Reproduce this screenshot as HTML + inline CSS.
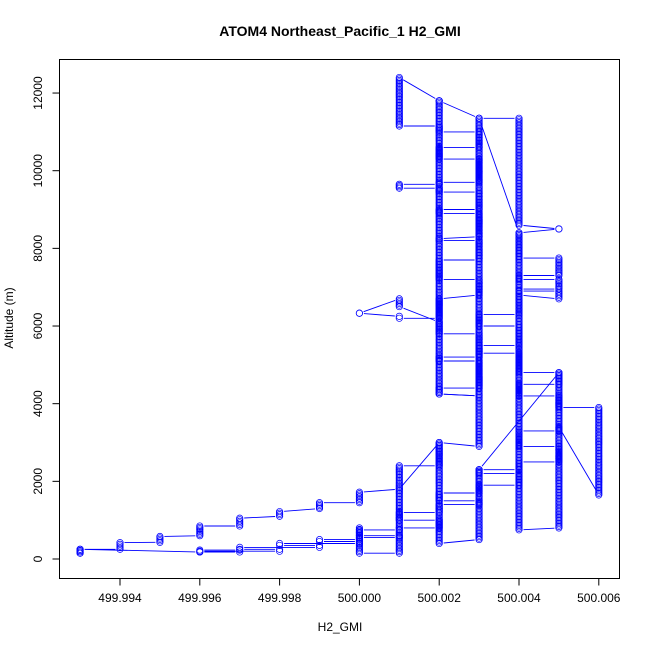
<!DOCTYPE html>
<html><head><meta charset="utf-8"><style>
body{margin:0;background:#fff}
svg{display:block;font-family:"Liberation Sans",sans-serif}
</style></head><body>
<svg id="chart" width="650" height="650" viewBox="0 0 650 650">
<text x="340" y="36" text-anchor="middle" font-size="14" font-weight="bold">ATOM4 Northeast_Pacific_1 H2_GMI</text>
<rect x="59.5" y="59.5" width="560" height="519" fill="none" stroke="#000" stroke-width="1"/>
<g id="xaxis"></g>
<g id="yaxis"></g>
<text x="340" y="631" text-anchor="middle" font-size="12">H2_GMI</text>
<text transform="translate(13,318) rotate(-90)" text-anchor="middle" font-size="12">Altitude (m)</text>
<g id="series"></g>
</svg>
<script>
const xTicks=[499.994,499.996,499.998,500.000,500.002,500.004,500.006];
const xTickLabels=["499.994","499.996","499.998","500.000","500.002","500.004","500.006"];
const yTicks=[0,2000,4000,6000,8000,10000,12000];
const yTickLabels=["0","2000","4000","6000","8000","10000","12000"];
// leg 1 runs: H2 value, start altitude, end altitude
const runH2=[499.993,499.994,499.995,499.996,499.997,499.998,499.999,500.000,500.001,500.002,500.003,500.002,500.003,500.002,500.003,500.002,500.001,500.000,500.001,500.002,500.003,500.002,500.003,500.002,500.003,500.002,500.003,500.002,500.001,500.002,500.003,500.002,500.003,500.002,500.001,500.002,500.003,500.004,500.005,500.004,500.005,500.004,500.005,500.004,500.005,500.004,500.003,500.004,500.003,500.004,500.005,500.004,500.005,500.006,500.005,500.004,500.005,500.004,500.003,500.004,500.003,500.002,500.003,500.002,500.001,500.002,500.001,500.000,500.001,500.000,499.999,500.000,499.998,499.999,499.997,499.998,499.996,499.997,499.996,499.993];
const runStart=[150,250,430,600,850,1100,1300,1450,1800,2400,2900,4250,4400,5100,5200,5800,6500,6330,6250,6200,6800,7200,7700,8200,8300,8900,9000,9450,9550,9650,9700,10300,10600,11000,11150,11800,11350,11350,8500,8400,7750,7300,7200,6950,6900,6800,6300,6000,5500,5300,4800,4500,4200,3900,3400,3300,2900,2500,2300,2200,1900,1700,1500,1400,1200,1000,800,750,600,550,500,450,400,350,300,250,200,180,230,250];
const runEnd=[250,420,580,850,1050,1220,1450,1720,2400,3000,4200,4400,5100,5200,5800,6100,6700,6330,6200,6700,7200,7700,8200,8250,8900,9000,9450,9550,9650,9700,10300,10600,11000,11150,12400,11800,11350,8600,8500,7750,7300,7200,6950,6900,6700,6300,6000,5500,5300,4800,4500,4200,3900,1650,3300,2900,2500,2300,2200,1900,1700,1500,1400,1200,1000,800,750,600,550,500,450,400,350,300,250,200,180,230,180,150];
// leg 2 runs
const leg2H2=[500.002,500.003,500.004,500.005,500.003,500.002,500.001,500.000];
const leg2Start=[11800,4200,8400,800,2300,400,1800,150];
const leg2End=[4250,11350,750,4800,500,3000,150,800];
const X=v=>120+(v-499.994)/0.001*39.9;
const Y=a=>559-a*0.03883;
const NS="http://www.w3.org/2000/svg";
const xa=document.getElementById('xaxis'),ya=document.getElementById('yaxis'),sg=document.getElementById('series');
function mk(t,at,p){const e=document.createElementNS(NS,t);for(const k in at)e.setAttribute(k,at[k]);p.appendChild(e);return e;}
xTicks.forEach((v,i)=>{
 const l=mk('line',{x1:X(v),x2:X(v),y1:578.5,y2:585.5,stroke:'#000'},xa);
 
 
 const t=mk('text',{x:X(v),y:602,'text-anchor':'middle','font-size':12},xa);t.textContent=xTickLabels[i];
 
 
});
mk('line',{x1:X(xTicks[0]),x2:X(xTicks[xTicks.length-1]),y1:578.5,y2:578.5,stroke:'#000'},xa);
yTicks.forEach((v,i)=>{
 const l=mk('line',{x1:52.5,x2:59.5,y1:Y(v),y2:Y(v),stroke:'#000'},ya);
 
 
 const t=mk('text',{transform:`translate(42,${Y(v)}) rotate(-90)`,'text-anchor':'middle','font-size':12},ya);t.textContent=yTickLabels[i];
 
 
});
function drawLeg(H,S,E,name){
 const pts=[];
 for(let i=0;i<H.length;i++){
  const n=Math.max(1,Math.round(Math.abs(E[i]-S[i])/38));
  for(let k=0;k<=n;k++){pts.push([H[i],S[i]+(E[i]-S[i])*k/n]);}
 }
 let d='';
 for(let i=1;i<pts.length;i++){
  const x1=X(pts[i-1][0]),y1=Y(pts[i-1][1]),x2=X(pts[i][0]),y2=Y(pts[i][1]);
  const L=Math.hypot(x2-x1,y2-y1);if(L<9)continue;
  const ux=(x2-x1)/L,uy=(y2-y1)/L,g=4.5;
  d+=`M${(x1+ux*g).toFixed(1)} ${(y1+uy*g).toFixed(1)}L${(x2-ux*g).toFixed(1)} ${(y2-uy*g).toFixed(1)}`;
 }
 const path=mk('path',{d:d,fill:'none',stroke:'#0000ff','stroke-width':0.9},sg);
 
 
 pts.forEach(p=>{
  const c=mk('circle',{cx:X(p[0]),cy:Y(p[1]),r:3.2,fill:'none',stroke:'#0000ff','stroke-width':0.7},sg);
  
  
 });
}
drawLeg(runH2,runStart,runEnd,'leg1');
drawLeg(leg2H2,leg2Start,leg2End,'leg2');
</script>
</body></html>
